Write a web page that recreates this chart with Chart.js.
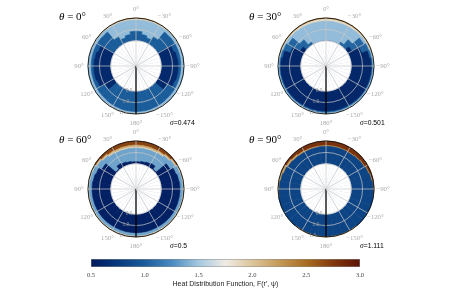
<!DOCTYPE html>
<html>
<head>
<meta charset="utf-8">
<script src="https://cdn.jsdelivr.net/npm/chart.js@4.4.1/dist/chart.umd.min.js"></script>
<style>
html, body { margin: 0; padding: 0; background: #fff; }
#wrap { position: relative; width: 450px; height: 298px; overflow: hidden; }
canvas { position: absolute; }
</style>
</head>
<body>
<div id="wrap">
<canvas id="p0" width="225" height="130" style="left:0;top:0"></canvas>
<canvas id="p1" width="225" height="130" style="left:225px;top:0"></canvas>
<canvas id="p2" width="225" height="130" style="left:0;top:123px"></canvas>
<canvas id="p3" width="225" height="130" style="left:225px;top:123px"></canvas>
<canvas id="cbar" width="330" height="48" style="left:60px;top:250px"></canvas>
</div>
<script>
// Daten ------------------------------------------------------------------
const thetas = [0, 30, 60, 90];
const sigmas = ['0.474', '0.501', '0.5', '1.111'];
const angleTicks = ['0°', '−30°', '−60°', '−90°', '−120°', '−150°', '180°', '150°', '120°', '90°', '60°', '30°'];
const rTicks = [0.5, 1.0, 1.5];
const rInner = 0.5;
const cbarTicks = [0.5, 1.0, 1.5, 2.0, 2.5, 3.0];
const cbarTitle = 'Heat Distribution Function, F(r′, ψ)';

// Farbskala (blau - weiss - braun)
const cmapHex = ['#011a5c', '#073a7d', '#1b5c9a', '#4a8abf', '#a4c8df', '#efebe5', '#dcc59b', '#c49a58', '#a86c22', '#80380c', '#5c1407'];

// Konturbänder: F-Wert pro Band, dazu der äussere Radius je 10°-Sektor (im Uhrzeigersinn ab 0°)
const p0F = [2.3, 1.85, 1.45, 1.0, 0.62];
const p0R = [
  [1.5,1.5,1.5,1.5,1.5,1.5,.5,.5,.5,.5,.5,.5,.5,.5,.5,.5,.5,.5, .5,.5,.5,.5,.5,.5,.5,.5,.5,.5,.5,.5,1.5,1.5,1.5,1.5,1.5,1.5],
  [1.46,1.46,1.46,1.47,1.48,1.48,1.5,.5,.5,.5,.5,.5,.5,.5,1.5,1.5,1.5,1.5, 1.5,1.5,1.5,1.5,.5,.5,.5,.5,.5,.5,.5,1.5,1.48,1.48,1.47,1.46,1.46,1.46],
  [1.41,1.41,1.42,1.43,1.45,1.46,1.47,1.5,1.5,1.5,1.5,1.5,1.5,1.5,1.46,1.46,1.46,1.46, 1.46,1.46,1.46,1.46,1.5,1.5,1.5,1.5,1.5,1.5,1.5,1.47,1.46,1.45,1.43,1.42,1.41,1.41],
  [0.92,0.8,0.72,0.88,1.34,1.35,1.36,1.36,1.36,1.36,1.36,1.36,1.36,1.36,1.37,1.38,1.39,1.39, 1.39,1.39,1.38,1.37,1.36,1.36,1.36,1.36,1.36,1.36,1.36,1.36,1.35,1.34,0.88,0.72,0.8,0.92],
  [.5,.5,.5,.5,.5,.5,1.15,1.22,1.24,1.24,1.24,1.2,0.95,.5,.5,.5,.5,.5, .5,.5,.5,.5,.5,0.95,1.2,1.24,1.24,1.24,1.22,1.15,.5,.5,.5,.5,.5,.5]
];

const p1F = [2.45, 2.1, 1.85, 1.45, 1.05, 0.6];
const p1R = [
  [1.5,1.5,1.5,1.5,1.5,1.5,1.5,.5,.5,.5,.5,.5,.5,.5,.5,.5,.5,.5, .5,.5,.5,.5,.5,.5,.5,.5,.5,.5,.5,1.5,1.5,1.5,1.5,1.5,1.5,1.5],
  [1.47,1.47,1.47,1.47,1.475,1.475,1.48,1.5,.5,.5,.5,.5,.5,.5,.5,.5,.5,.5, .5,.5,.5,.5,.5,.5,.5,.5,.5,.5,1.5,1.48,1.475,1.475,1.47,1.47,1.47,1.47],
  [1.44,1.44,1.44,1.44,1.45,1.45,1.46,1.48,1.5,.5,.5,.5,.5,.5,1.5,1.5,1.5,1.5, 1.5,1.5,1.5,1.5,.5,.5,.5,.5,.5,1.5,1.48,1.46,1.45,1.45,1.44,1.44,1.44,1.44],
  [1.36,1.36,1.37,1.38,1.4,1.42,1.43,1.45,1.47,1.5,1.5,1.5,1.5,1.5,1.47,1.47,1.47,1.47, 1.47,1.47,1.47,1.47,1.5,1.5,1.5,1.5,1.5,1.47,1.45,1.43,1.42,1.4,1.38,1.37,1.36,1.36],
  [.5,.5,.5,0.62,0.9,1.3,1.38,1.41,1.42,1.42,1.42,1.42,1.42,1.42,1.42,1.42,1.42,1.42, 1.42,1.42,1.42,1.42,1.42,1.42,1.42,1.42,1.42,1.42,1.41,1.38,1.3,0.9,0.62,.5,.5,.5],
  [.5,.5,.5,.5,.5,0.7,1.05,1.32,1.37,1.38,1.38,1.38,1.38,1.38,1.37,1.37,1.37,1.37, 1.37,1.37,1.37,1.37,1.38,1.38,1.38,1.38,1.38,1.37,1.32,1.05,0.7,.5,.5,.5,.5,.5]
];

const p2F = [2.7, 2.15, 1.85, 1.35, 0.55];
const p2R = [
  [1.5,1.5,1.5,1.5,1.5,1.5,.5,.5,.5,.5,.5,.5,.5,.5,.5,.5,.5,.5, .5,.5,.5,.5,.5,.5,.5,.5,.5,.5,.5,.5,1.5,1.5,1.5,1.5,1.5,1.5],
  [1.32,1.32,1.32,1.34,1.39,1.44,1.5,1.5,1.5,1.5,1.5,1.5,1.5,1.5,1.5,1.5,1.5,1.5, 1.5,1.5,1.5,1.5,1.5,1.5,1.5,1.5,1.5,1.5,1.5,1.5,1.44,1.39,1.34,1.32,1.32,1.32],
  [1.23,1.23,1.24,1.27,1.33,1.4,1.46,1.47,1.47,1.47,1.47,1.47,1.47,1.47,1.46,1.46,1.46,1.46, 1.46,1.46,1.46,1.46,1.47,1.47,1.47,1.47,1.47,1.47,1.47,1.46,1.4,1.33,1.27,1.24,1.23,1.23],
  [1.19,1.19,1.2,1.23,1.3,1.37,1.43,1.44,1.44,1.44,1.44,1.44,1.44,1.44,1.43,1.43,1.43,1.43, 1.43,1.43,1.43,1.43,1.44,1.44,1.44,1.44,1.44,1.44,1.44,1.43,1.37,1.3,1.23,1.2,1.19,1.19],
  [0.6,0.62,0.66,0.7,0.55,1.12,1.26,1.3,1.32,1.32,1.32,1.32,1.32,1.32,1.31,1.31,1.31,1.31, 1.31,1.31,1.31,1.31,1.32,1.32,1.32,1.32,1.32,1.32,1.3,1.26,1.12,0.55,0.7,0.66,0.62,0.6]
];

const p3F = [2.8, 2.2, 0.82];
const p3R = [
  [1.5,1.5,1.5,1.5,1.5,1.5,1.5,1.5,1.5,1.5,.5,.5,.5,.5,.5,.5,.5,.5,.5,.5,.5,.5,.5,.5,.5,.5,.5,.5,.5,1.5,1.5,1.5,1.5,1.5,1.5,1.5],
  [1.3,1.3,1.3,1.3,1.33,1.35,1.4,1.44,1.47,1.49,.5,.5,.5,.5,1.5,1.5,1.5,1.5,1.5,1.5,1.5,1.5,.5,.5,.5,.5,1.5,1.5,1.5,1.46,1.41,1.37,1.33,1.31,1.3,1.3],
  [1.27,1.27,1.27,1.27,1.3,1.32,1.37,1.41,1.45,1.47,1.5,1.5,1.5,1.5,1.46,1.46,1.46,1.46,1.46,1.46,1.46,1.46,1.5,1.5,1.5,1.5,1.46,1.44,1.41,1.37,1.32,1.29,1.27,1.26,1.26,1.27]
];
//-------------------------------------------------------------------------

function hexRgb(h) {
  return [parseInt(h.substr(1, 2), 16), parseInt(h.substr(3, 2), 16), parseInt(h.substr(5, 2), 16)];
}
function cmap(v) {
  const lo = cbarTicks[0], hi = cbarTicks[cbarTicks.length - 1];
  let t = Math.max(0, Math.min(1, (v - lo) / (hi - lo)));
  const n = cmapHex.length - 1;
  const k = Math.min(Math.floor(t * n), n - 1);
  const f = t * n - k;
  const a = hexRgb(cmapHex[k]), b = hexRgb(cmapHex[k + 1]);
  const c = a.map((x, j) => Math.round(x + (b[j] - x) * f));
  return 'rgb(' + c.join(',') + ')';
}

// 36 Sektoren, nur jeder dritte bekommt eine Beschriftung
const sectorLabels = [];
for (let i = 0; i < 36; i++) sectorLabels.push(i % 3 === 0 ? angleTicks[i / 3] : '');

// Texte um die Polarplots (Winkel, Radius, Titel, sigma)
const panelText = {
  id: 'panelText',
  afterDraw(chart, args, opts) {
    const ctx = chart.ctx;
    const s = chart.scales.r;
    const cx = s.xCenter, cy = s.yCenter;
    ctx.save();
    ctx.textAlign = 'center';
    ctx.textBaseline = 'middle';
    ctx.fillStyle = '#ababab';
    ctx.font = '6.8px "Liberation Serif"';
    for (let k = 0; k < angleTicks.length; k++) {
      const p = s.getPointPosition(k * 3, s.drawingArea + 9);
      ctx.fillText(angleTicks[k], p.x, p.y);
    }
    ctx.font = '5.5px "Liberation Serif"';
    ctx.fillStyle = '#9a9a9a';
    rTicks.forEach(v => {
      const p = s.getPointPosition(19.6, s.getDistanceFromCenterForValue(v));
      ctx.fillText(v.toFixed(1), p.x, p.y);
    });
    // Titel
    ctx.textAlign = 'left';
    ctx.fillStyle = '#000';
    ctx.font = 'italic 11px "Liberation Serif"';
    const tx = cx - 77, ty = cy - 49;
    ctx.fillText('θ', tx, ty);
    const w = ctx.measureText('θ').width;
    ctx.font = '11px "Liberation Serif"';
    ctx.fillText(' = ' + opts.theta + '°', tx + w, ty);
    // sigma
    const sx = cx + 34, sy = cy + 57;
    ctx.font = 'italic 7.5px "Liberation Serif"';
    ctx.fillText('σ', sx, sy);
    const ws = ctx.measureText('σ').width;
    ctx.font = '6.8px "Liberation Sans"';
    ctx.fillText('=' + opts.sigma, sx + ws, sy);
    ctx.restore();
  }
};

function makePanel(id, F, R, theta, sigma, pad) {
  const layers = F.map((f, k) => ({
    data: R[k],
    backgroundColor: cmap(f),
    borderColor: cmap(f),
    borderWidth: 0.6
  }));
  layers.push({
    data: sectorLabels.map(() => rInner),
    backgroundColor: '#ffffff',
    borderColor: '#ffffff',
    borderWidth: 0.6
  });
  // Chart.js zeichnet Datensatz 0 zuletzt -> Reihenfolge umdrehen
  layers.reverse();

  return new Chart(document.getElementById(id), {
    type: 'polarArea',
    data: { labels: sectorLabels, datasets: layers },
    options: {
      responsive: false,
      animation: false,
      devicePixelRatio: 1,
      layout: { padding: pad },
      scales: {
        r: {
          min: -0.6,
          max: 1.5,
          startAngle: 0,
          afterBuildTicks: sc => { sc.ticks = rTicks.map(v => ({ value: v })); },
          ticks: { display: false },
          pointLabels: { display: false },
          grid: {
            z: 1,
            circular: true,
            color: c => c.index === rTicks.length - 1 ? '#111' : '#c9c9c9',
            lineWidth: c => c.index === rTicks.length - 1 ? 0.9 : 0.7
          },
          angleLines: {
            display: true,
            color: c => c.index === 18 ? '#000' : (c.index % 3 === 0 ? '#c9c9c9' : 'rgba(0,0,0,0)'),
            lineWidth: c => c.index === 18 ? 1.3 : (c.index % 3 === 0 ? 0.7 : 0)
          }
        }
      },
      plugins: {
        legend: { display: false },
        tooltip: { enabled: false },
        panelText: { theta: theta, sigma: sigma }
      }
    },
    plugins: [panelText]
  });
}

const padLeft = { left: 88, right: 41, top: 18, bottom: 16 };
const padRight = { left: 53, right: 76, top: 18, bottom: 16 };
makePanel('p0', p0F, p0R, thetas[0], sigmas[0], padLeft);
makePanel('p1', p1F, p1R, thetas[1], sigmas[1], padRight);
makePanel('p2', p2F, p2R, thetas[2], sigmas[2], padLeft);
makePanel('p3', p3F, p3R, thetas[3], sigmas[3], padRight);

// Farbbalken ---------------------------------------------------------------
new Chart(document.getElementById('cbar'), {
  type: 'bar',
  data: {
    labels: [''],
    datasets: [{
      data: [[cbarTicks[0], cbarTicks[cbarTicks.length - 1]]],
      backgroundColor: c => {
        const ch = c.chart;
        if (!ch.chartArea) return '#888';
        const x = ch.scales.x;
        const g = ch.ctx.createLinearGradient(x.getPixelForValue(cbarTicks[0]), 0, x.getPixelForValue(cbarTicks[cbarTicks.length - 1]), 0);
        cmapHex.forEach((h, k) => g.addColorStop(k / (cmapHex.length - 1), h));
        return g;
      },
      borderColor: '#8a8a8a',
      borderWidth: 0.8,
      borderSkipped: false,
      barPercentage: 1,
      categoryPercentage: 1
    }]
  },
  options: {
    indexAxis: 'y',
    responsive: false,
    animation: false,
    devicePixelRatio: 1,
    layout: { padding: { left: 31, right: 30, top: 9, bottom: 0 } },
    scales: {
      y: { display: false },
      x: {
        type: 'linear',
        min: cbarTicks[0],
        max: cbarTicks[cbarTicks.length - 1],
        afterBuildTicks: sc => { sc.ticks = cbarTicks.map(v => ({ value: v })); },
        afterFit: sc => { sc.height = 31; },
        grid: { display: false, drawTicks: false, tickLength: 0 },
        border: { display: false },
        ticks: {
          padding: 4,
          maxRotation: 0,
          callback: v => v.toFixed(1),
          color: '#444',
          font: { family: 'Liberation Serif', size: 6.5 }
        },
        title: {
          display: true,
          text: cbarTitle,
          color: '#222',
          font: { family: 'Liberation Sans', size: 7 },
          padding: { top: 0, bottom: 10 }
        }
      }
    },
    plugins: { legend: { display: false }, tooltip: { enabled: false } }
  }
});
</script>
</body>
</html>
